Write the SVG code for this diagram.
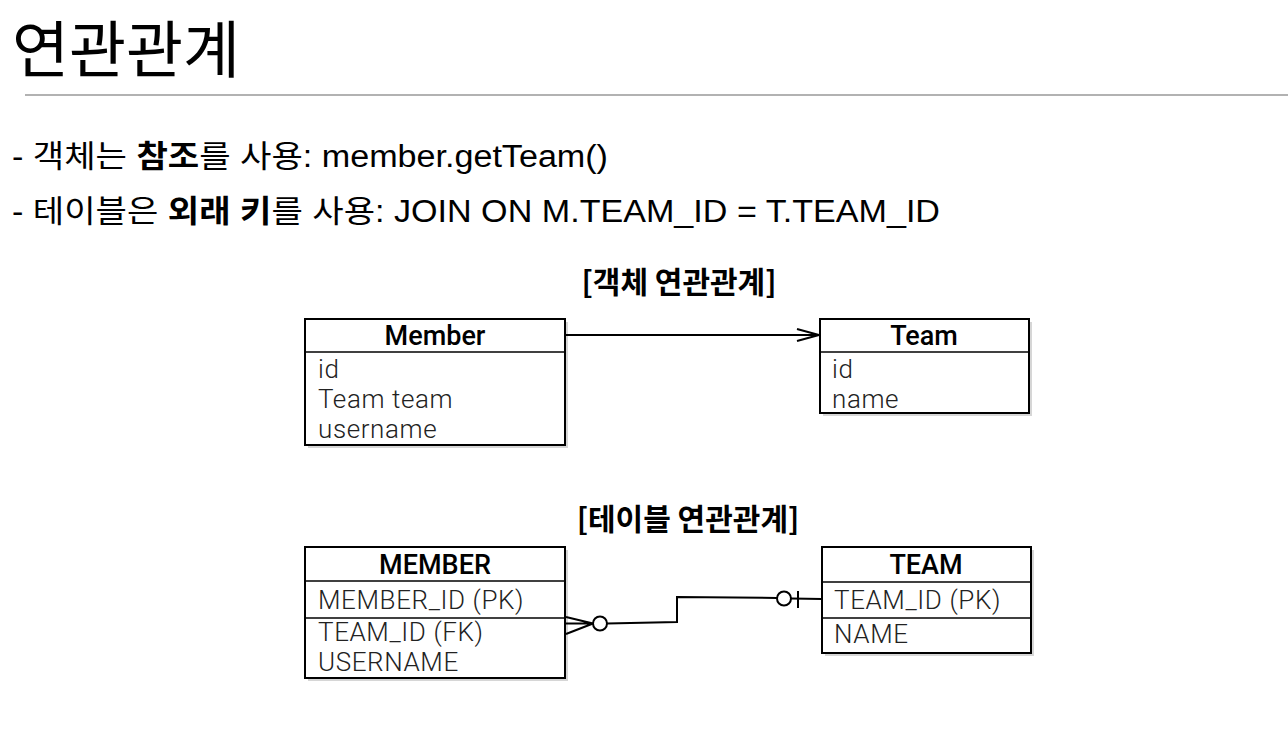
<svg xmlns="http://www.w3.org/2000/svg" width="1288" height="736" viewBox="0 0 1288 736">
<style>
.title{font-family:"Noto Sans CJK KR",sans-serif;font-size:62px;fill:#000}
.body{font-family:"Liberation Sans","Noto Sans CJK KR",sans-serif;font-size:31px;fill:#000}
.b{font-weight:bold}
.cap{font-family:"Noto Sans CJK KR",sans-serif;font-size:30px;font-weight:bold;fill:#000;text-anchor:middle}
.hdr{font-family:Roboto,"Liberation Sans",sans-serif;font-size:27px;font-weight:500;fill:#000;text-anchor:middle}
.fld{font-family:Roboto,"Liberation Sans",sans-serif;font-size:26px;font-weight:300;letter-spacing:0.6px;fill:#222}
.box{fill:#fff;stroke:#000;stroke-width:2}
.shadow{fill:#bbb;opacity:0.6}
.div{stroke:#000;stroke-width:1.5}
.conn{fill:none;stroke:#000;stroke-width:2}
.circ{fill:#fff;stroke:#000;stroke-width:2}
</style>
<defs>
<marker id="open" markerWidth="26" markerHeight="14" refX="24" refY="7" orient="auto" markerUnits="userSpaceOnUse">
<path d="M2,1 L24,7 L2,13" fill="none" stroke="#000" stroke-width="2"/>
</marker>
</defs>

<g id="heading">
<text class="title" x="12" y="73">연관관계</text>
<line x1="25" y1="95" x2="1288" y2="95" stroke="#999" stroke-width="1.5"/>
<text class="body" x="12" y="167" textLength="596" lengthAdjust="spacingAndGlyphs">- 객체는 <tspan class="b">참조</tspan>를 사용: member.getTeam()</text>
<text class="body" x="12" y="222" textLength="928" lengthAdjust="spacingAndGlyphs">- 테이블은 <tspan class="b">외래 키</tspan>를 사용: JOIN ON M.TEAM_ID = T.TEAM_ID</text>
<text class="cap" x="679" y="293">[객체 연관관계]</text>
<text class="cap" x="688" y="530">[테이블 연관관계]</text>
</g>

<g id="member-obj">
<rect class="shadow" x="308" y="322" width="260" height="126"/>
<rect class="box" x="305" y="319" width="260" height="126"/>
<line class="div" x1="305" y1="352" x2="565" y2="352"/>
<text class="hdr" x="435" y="345">Member</text>
<text class="fld" x="318" y="378">id</text>
<text class="fld" x="318" y="408">Team team</text>
<text class="fld" x="318" y="438">username</text>
</g>

<g id="team-obj">
<rect class="shadow" x="823" y="322" width="209" height="94"/>
<rect class="box" x="820" y="319" width="209" height="94"/>
<line class="div" x1="820" y1="352" x2="1029" y2="352"/>
<text class="hdr" x="924" y="345">Team</text>
<text class="fld" x="832" y="378">id</text>
<text class="fld" x="832" y="408">name</text>
</g>

<g id="member-table">
<rect class="shadow" x="308" y="550" width="260" height="131"/>
<rect class="box" x="305" y="547" width="260" height="131"/>
<line class="div" x1="305" y1="581" x2="565" y2="581"/>
<line class="div" x1="305" y1="618" x2="565" y2="618"/>
<text class="hdr" x="435" y="574">MEMBER</text>
<text class="fld" x="318" y="609">MEMBER_ID (PK)</text>
<text class="fld" x="318" y="641">TEAM_ID (FK)</text>
<text class="fld" x="318" y="671">USERNAME</text>
</g>

<g id="team-table">
<rect class="shadow" x="825" y="550" width="209" height="106"/>
<rect class="box" x="822" y="547" width="209" height="106"/>
<line class="div" x1="822" y1="582" x2="1031" y2="582"/>
<line class="div" x1="822" y1="618" x2="1031" y2="618"/>
<text class="hdr" x="926" y="574">TEAM</text>
<text class="fld" x="834" y="609">TEAM_ID (PK)</text>
<text class="fld" x="834" y="643">NAME</text>
</g>

<g id="connectors">
<line class="conn" x1="565" y1="335" x2="819" y2="335" marker-end="url(#open)"/>
<path class="conn" d="M607,623.5 L677,622 L677,597 L777,598 M791,598.5 L822,599"/>
<path class="conn" d="M566,617 L593,623.5 M566,634 L593,623.5 M566,623.5 L593,623.5"/>
<circle class="circ" cx="600" cy="623.5" r="7"/>
<circle class="circ" cx="784" cy="598.5" r="7"/>
<line class="conn" x1="798" y1="591" x2="798" y2="608"/>
</g>
</svg>
